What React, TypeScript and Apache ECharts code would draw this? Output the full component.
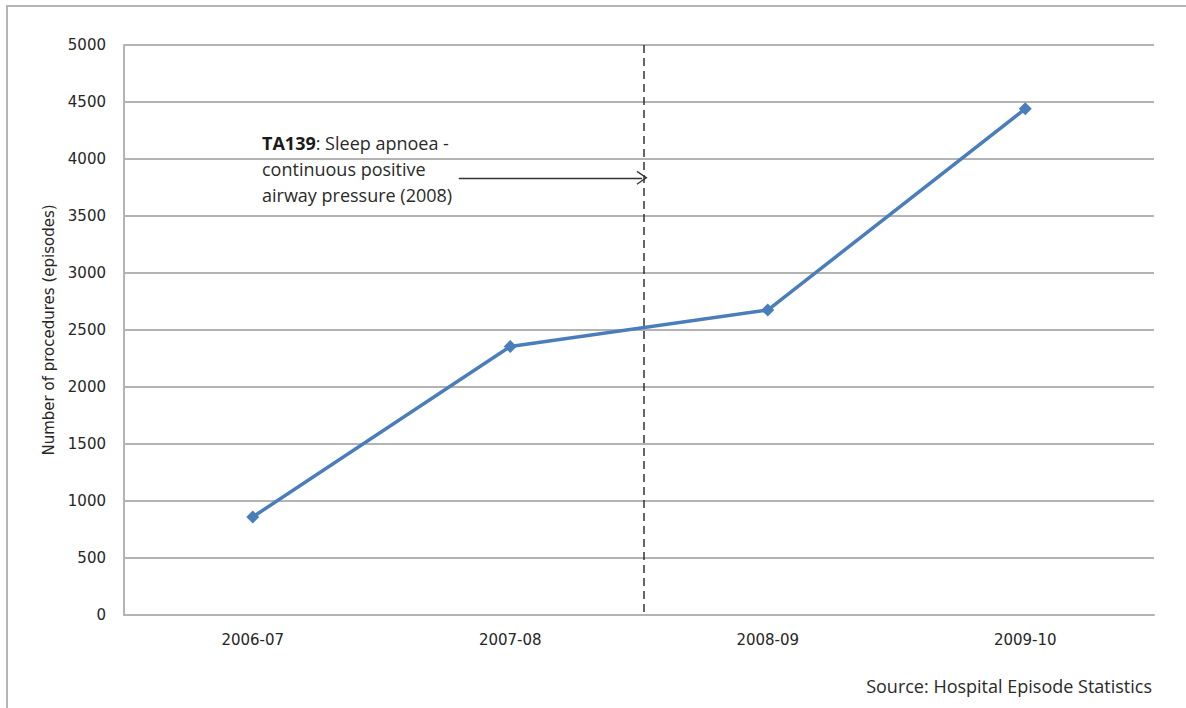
import React, { useEffect, useRef } from "react";
import * as echarts from "echarts";

const categories = ["2006-07", "2007-08", "2008-09", "2009-10"];
const procedures = [860, 2355, 2675, 4440];
const yTicks = { min: 0, max: 5000, interval: 500 };
const policyPosition = 2.02; // in category-band units from the left edge
const arrowStart = 1.3;
const arrowY = 3835;
const annotationTitle = "TA139";
const annotationLines = [": Sleep apnoea -", "continuous positive", "airway pressure (2008)"];
const sourceText = "Source: Hospital Episode Statistics";
const yAxisTitle = "Number of procedures (episodes)";

const GRID = "#b3b3b3";
const TEXT = "#262626";
const LINE = "#4a7ebb";

export default function App() {
  const ref = useRef<HTMLDivElement>(null);
  useEffect(() => {
    if (!ref.current) return;
    const chart = echarts.init(ref.current, null, { renderer: "svg" });
    const grid = { left: 124, right: 32, top: 45, bottom: 93 };
    chart.setOption({
      animation: false,
      backgroundColor: "#ffffff",
      grid,
      xAxis: [
        {
          type: "category",
          data: categories,
          boundaryGap: true,
          axisLine: { lineStyle: { color: GRID, width: 2 } },
          axisTick: { alignWithLabel: true, length: 4, lineStyle: { color: GRID } },
          axisLabel: { color: TEXT, fontFamily: "DejaVu Sans", fontSize: 15, margin: 17 },
          splitLine: { show: false },
        },
        {
          type: "value",
          min: 0,
          max: categories.length,
          show: false,
        },
      ],
      yAxis: {
        type: "value",
        min: yTicks.min,
        max: yTicks.max,
        interval: yTicks.interval,
        name: yAxisTitle,
        nameLocation: "middle",
        nameGap: 63,
        nameTextStyle: { color: TEXT, fontFamily: "DejaVu Sans", fontSize: 15 },
        axisLine: { show: true, lineStyle: { color: GRID, width: 2 } },
        axisTick: { show: false },
        axisLabel: {
          color: TEXT,
          fontFamily: "DejaVu Sans",
          fontSize: 15,
          margin: 18,
          formatter: (v: number) => String(v),
        },
        splitLine: { lineStyle: { color: GRID, width: 2 } },
      },
      series: [
        {
          type: "line",
          data: procedures,
          xAxisIndex: 0,
          lineStyle: { color: LINE, width: 3.5 },
          itemStyle: { color: LINE },
          symbol: "diamond",
          symbolSize: 13,
          showSymbol: true,
          z: 5,
        },
        {
          type: "line",
          xAxisIndex: 1,
          data: [],
          silent: true,
          markLine: {
            silent: true,
            animation: false,
            label: { show: false },
            data: [
              [
                { coord: [policyPosition, yTicks.max], symbol: "none" },
                { coord: [policyPosition, yTicks.min], symbol: "none" },
              ],
              [
                {
                  coord: [arrowStart, arrowY],
                  symbol: "none",
                  lineStyle: { type: "solid", color: "#333333", width: 1.3 },
                },
                {
                  coord: [policyPosition - 0.008, arrowY],
                  symbol: "path://M0,10 L5,0 L10,10 L9.2,10.6 L5,2.4 L0.8,10.6 Z",
                  symbolSize: [14, 11],
                  symbolOffset: [0, 0],
                  lineStyle: { type: "solid", color: "#333333", width: 1.3 },
                },
              ],
            ],
            lineStyle: { type: [8, 5], color: "#333333", width: 1.5 },
            itemStyle: { color: "#333333" },
          },
        },
      ],
      graphic: [
        {
          type: "rect",
          shape: { x: 7, y: 6, width: 1190, height: 720 },
          style: { fill: "none", stroke: "#b4b4b4", lineWidth: 2 },
          silent: true,
          z: -1,
        },
        {
          type: "text",
          left: 262,
          top: 134,
          style: {
            text: `{b|${annotationTitle}}{n|${annotationLines[0]}}\n{n|${annotationLines[1]}}\n{n|${annotationLines[2]}}`,
            rich: {
              b: { fontFamily: "Open Sans", fontWeight: "bold", fontSize: 18, fill: "#1a1a1a", lineHeight: 26 },
              n: { fontFamily: "Open Sans", fontSize: 18, fill: "#2a2a2a", lineHeight: 26 },
            },
          },
        },
        {
          type: "text",
          right: 34,
          top: 677,
          style: {
            text: sourceText,
            fontFamily: "Open Sans",
            fontSize: 18,
            fill: "#2a2a2a",
          },
        },
      ],
    });
    return () => chart.dispose();
  }, []);
  return (
    <div
      ref={ref}
      style={{ position: "fixed", left: 0, top: 0, width: 1186, height: 708 }}
    />
  );
}
